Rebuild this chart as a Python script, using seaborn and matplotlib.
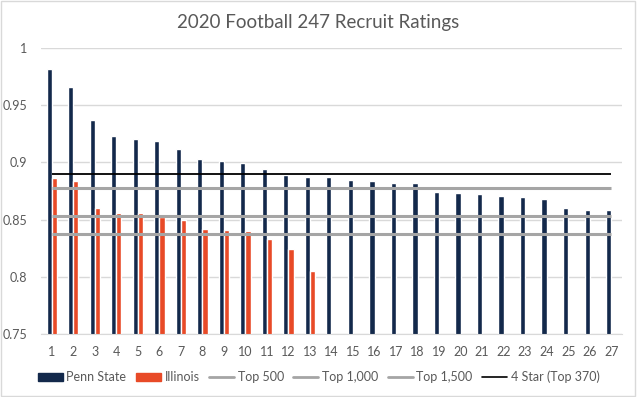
import pandas as pd
import numpy as np
import matplotlib
matplotlib.use('Agg')
import matplotlib.pyplot as plt
from matplotlib.patches import Patch, Rectangle
from matplotlib.lines import Line2D
import seaborn as sns

# Data
ranks = [str(i) for i in range(1, 28)]
penn_state = [0.982, 0.966, 0.937, 0.923, 0.920, 0.919, 0.912, 0.903, 0.901, 0.899,
              0.894, 0.889, 0.8875, 0.887, 0.885, 0.884, 0.882, 0.882, 0.874, 0.8735,
              0.872, 0.871, 0.870, 0.868, 0.860, 0.8587, 0.858]
illinois = [0.886, 0.884, 0.860, 0.856, 0.856, 0.852, 0.850, 0.842, 0.841, 0.840,
            0.833, 0.8246, 0.8053]
ref_names = ['Top 500', 'Top 1,000', 'Top 1,500', '4 Star (Top 370)']
ref_values = [0.878, 0.853, 0.837, 0.890]
ref_colors = ['#A5A5A5', '#A5A5A5', '#A5A5A5', '#000000']

team_colors = {'Penn State': '#13294B', 'Illinois': '#E84A27'}

df = pd.concat([
    pd.DataFrame({'Rank': ranks, 'Rating': penn_state, 'Team': 'Penn State'}),
    pd.DataFrame({'Rank': ranks[:len(illinois)], 'Rating': illinois, 'Team': 'Illinois'}),
])

sns.set_style('white')
plt.rcParams['font.family'] = ['Lato', 'DejaVu Sans']
text_gray = '#595959'

fig = plt.figure(figsize=(6.37, 3.97), dpi=100)
ax = fig.add_axes([0.0644, 0.1587, 0.912, 0.7206])

sns.barplot(data=df, x='Rank', y='Rating', hue='Team', order=ranks,
            hue_order=['Penn State', 'Illinois'], palette=team_colors,
            width=0.48, saturation=1, legend=False, ax=ax, zorder=2)

# reference lines across the categories
for val, col in zip(ref_values, ref_colors):
    ax.hlines(val, 0, len(ranks) - 1, color=col,
              linewidth=2.2 if col != '#000000' else 1.3, zorder=3)

ax.set_ylim(0.75, 1.0)
ax.set_xlim(-0.5, len(ranks) - 0.5)
ax.set_yticks([0.75, 0.8, 0.85, 0.9, 0.95, 1.0])
ax.set_yticklabels(['0.75', '0.8', '0.85', '0.9', '0.95', '1'])
ax.grid(axis='y', color='#D9D9D9', linewidth=1, zorder=0)
ax.set_axisbelow(True)
for s in ['top', 'right', 'left']:
    ax.spines[s].set_visible(False)
ax.spines['bottom'].set_color('#D9D9D9')
ax.tick_params(axis='both', length=0, labelsize=9, colors=text_gray)
ax.tick_params(axis='x', pad=9)
ax.tick_params(axis='y', pad=10)
ax.set_xlabel('')
ax.set_ylabel('')

fig.suptitle('2020 Football 247 Recruit Ratings', y=0.965, fontsize=13.5, color=text_gray)

handles = [Patch(color=team_colors['Penn State']), Patch(color=team_colors['Illinois'])]
handles += [Line2D([0], [0], color=c, linewidth=2 if c != '#000000' else 1.2) for c in ref_colors]
labels = ['Penn State', 'Illinois'] + ref_names
fig.legend(handles, labels, loc='center', bbox_to_anchor=(0.5, 0.05), ncol=6,
           frameon=False, fontsize=9, labelcolor=text_gray, handlelength=2.0,
           handleheight=0.65, handletextpad=0.3, columnspacing=0.75)

# chart border
fig.patches.append(Rectangle((0.002, 0.003), 0.995, 0.994, transform=fig.transFigure,
                             fill=False, edgecolor='#D9D9D9', linewidth=1))

plt.savefig('out.png', dpi=100)
